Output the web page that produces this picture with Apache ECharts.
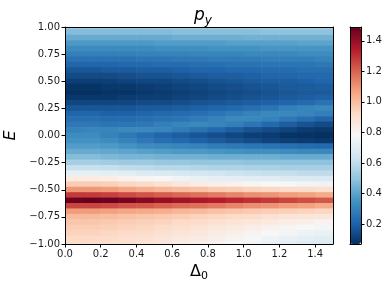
<!DOCTYPE html>
<html><head><meta charset="utf-8">
<script src="https://cdn.jsdelivr.net/npm/echarts/dist/echarts.min.js"></script>
<style>html,body{margin:0;padding:0;background:#fff}#c{width:390px;height:291px}</style>
</head><body><div id="c"></div><script>
// Δ0 cell centres (columns)
const deltaCenters = [0.05,0.15,0.25,0.35,0.45,0.55,0.65,0.75,0.85,0.95,1.05,1.15,1.25,1.35,1.45];
// E cell centres (rows, top to bottom)
const energyCenters = [1.00,0.95,0.90,0.85,0.80,0.75,0.70,0.65,0.60,0.55,0.50,0.45,0.40,0.35,0.30,0.25,0.20,0.15,0.10,0.05,0.00,
  -0.05,-0.10,-0.15,-0.20,-0.25,-0.30,-0.35,-0.40,-0.45,-0.50,-0.55,-0.60,-0.65,-0.70,-0.75,-0.80,-0.85,-0.90,-0.95,-1.00];
// p_y values, one row per E centre, one value per Δ0 centre
const pyRows = [
  [0.51,0.51,0.51,0.51,0.51,0.52,0.52,0.52,0.52,0.52,0.53,0.53,0.53,0.53,0.53],
  [0.47,0.47,0.47,0.47,0.47,0.47,0.48,0.48,0.48,0.48,0.48,0.49,0.49,0.49,0.49],
  [0.42,0.42,0.42,0.42,0.42,0.42,0.43,0.43,0.43,0.43,0.44,0.44,0.44,0.44,0.44],
  [0.37,0.37,0.37,0.37,0.37,0.38,0.38,0.38,0.38,0.39,0.39,0.39,0.39,0.40,0.40],
  [0.33,0.33,0.33,0.33,0.33,0.34,0.34,0.34,0.35,0.35,0.35,0.36,0.36,0.36,0.36],
  [0.29,0.29,0.29,0.29,0.30,0.30,0.30,0.31,0.31,0.31,0.32,0.32,0.32,0.33,0.33],
  [0.25,0.25,0.25,0.25,0.26,0.26,0.27,0.27,0.28,0.28,0.28,0.29,0.29,0.29,0.30],
  [0.21,0.21,0.21,0.22,0.22,0.23,0.23,0.24,0.24,0.25,0.25,0.26,0.26,0.26,0.27],
  [0.17,0.17,0.18,0.18,0.19,0.19,0.20,0.21,0.21,0.22,0.22,0.23,0.23,0.24,0.24],
  [0.14,0.14,0.14,0.15,0.16,0.16,0.17,0.18,0.19,0.19,0.20,0.21,0.21,0.22,0.22],
  [0.11,0.11,0.11,0.12,0.13,0.13,0.14,0.15,0.16,0.17,0.18,0.19,0.19,0.20,0.21],
  [0.08,0.08,0.09,0.09,0.10,0.11,0.12,0.13,0.14,0.15,0.16,0.17,0.18,0.18,0.19],
  [0.07,0.07,0.08,0.08,0.09,0.10,0.11,0.12,0.13,0.14,0.15,0.16,0.17,0.18,0.18],
  [0.09,0.09,0.09,0.10,0.11,0.11,0.12,0.13,0.14,0.15,0.16,0.17,0.18,0.19,0.20],
  [0.13,0.13,0.13,0.13,0.14,0.14,0.15,0.16,0.17,0.18,0.19,0.20,0.21,0.23,0.25],
  [0.17,0.17,0.17,0.17,0.18,0.18,0.19,0.20,0.21,0.22,0.24,0.26,0.29,0.31,0.32],
  [0.21,0.21,0.20,0.20,0.21,0.22,0.23,0.24,0.26,0.28,0.30,0.32,0.32,0.31,0.29],
  [0.24,0.24,0.23,0.23,0.24,0.25,0.26,0.28,0.30,0.32,0.32,0.30,0.27,0.24,0.21],
  [0.27,0.27,0.26,0.26,0.27,0.29,0.31,0.32,0.31,0.29,0.26,0.22,0.19,0.16,0.14],
  [0.30,0.31,0.31,0.32,0.32,0.31,0.28,0.25,0.22,0.19,0.16,0.14,0.12,0.10,0.09],
  [0.33,0.33,0.30,0.27,0.24,0.21,0.19,0.17,0.15,0.13,0.11,0.10,0.08,0.075,0.07],
  [0.35,0.35,0.33,0.30,0.27,0.24,0.22,0.20,0.18,0.16,0.14,0.12,0.11,0.10,0.09],
  [0.38,0.38,0.37,0.35,0.33,0.32,0.31,0.30,0.28,0.27,0.26,0.25,0.24,0.23,0.22],
  [0.42,0.42,0.41,0.40,0.39,0.38,0.37,0.37,0.36,0.35,0.34,0.34,0.33,0.32,0.32],
  [0.47,0.47,0.46,0.45,0.45,0.44,0.44,0.44,0.43,0.43,0.43,0.43,0.42,0.42,0.42],
  [0.54,0.54,0.53,0.52,0.52,0.51,0.51,0.50,0.50,0.50,0.49,0.49,0.49,0.49,0.49],
  [0.62,0.62,0.61,0.60,0.59,0.58,0.58,0.57,0.56,0.56,0.55,0.55,0.54,0.54,0.54],
  [0.72,0.72,0.71,0.70,0.68,0.67,0.66,0.65,0.64,0.63,0.62,0.61,0.61,0.60,0.60],
  [0.84,0.84,0.83,0.81,0.79,0.77,0.75,0.73,0.72,0.71,0.70,0.69,0.68,0.67,0.67],
  [0.96,0.96,0.95,0.93,0.91,0.89,0.86,0.84,0.82,0.81,0.79,0.78,0.77,0.76,0.75],
  [1.09,1.09,1.08,1.06,1.04,1.02,1.00,0.99,0.97,0.96,0.94,0.93,0.92,0.91,0.90],
  [1.28,1.28,1.27,1.25,1.23,1.21,1.19,1.17,1.15,1.13,1.11,1.10,1.08,1.07,1.05],
  [1.48,1.49,1.48,1.46,1.43,1.40,1.38,1.36,1.34,1.32,1.30,1.28,1.26,1.24,1.22],
  [1.26,1.26,1.25,1.23,1.22,1.20,1.18,1.17,1.15,1.13,1.11,1.10,1.08,1.07,1.05],
  [1.08,1.08,1.07,1.06,1.05,1.04,1.02,1.01,0.99,0.98,0.97,0.96,0.95,0.94,0.93],
  [1.01,1.01,1.00,0.99,0.98,0.97,0.96,0.94,0.93,0.92,0.91,0.89,0.88,0.87,0.86],
  [0.98,0.98,0.97,0.96,0.95,0.94,0.92,0.91,0.89,0.88,0.86,0.85,0.83,0.82,0.80],
  [0.96,0.96,0.95,0.94,0.93,0.91,0.90,0.88,0.86,0.85,0.83,0.81,0.79,0.78,0.76],
  [0.94,0.94,0.93,0.92,0.91,0.89,0.87,0.86,0.84,0.82,0.80,0.78,0.76,0.74,0.73],
  [0.92,0.92,0.91,0.90,0.89,0.87,0.85,0.84,0.82,0.80,0.77,0.75,0.73,0.71,0.70],
  [0.91,0.91,0.90,0.89,0.88,0.86,0.84,0.82,0.80,0.78,0.76,0.73,0.71,0.69,0.68]
];
const xTicks = [0.0,0.2,0.4,0.6,0.8,1.0,1.2,1.4];
const yTicks = [-1.00,-0.75,-0.50,-0.25,0.00,0.25,0.50,0.75,1.00];
const cbTicks = [0.2,0.4,0.6,0.8,1.0,1.2,1.4];

const rdbuR = ['#053061','#2166ac','#4393c3','#92c5de','#d1e5f0','#f7f7f7','#fddbc7','#f4a582','#d6604d','#b2182b','#67001f'];
const FONT = 'DejaVu Sans';
const TXT = '#1a1a1a';

const data = [];
pyRows.forEach((row, i) => row.forEach((v, j) => data.push([deltaCenters[j], energyCenters[i], v])));
const allVals = data.map(d => d[2]);
const vMin = Math.min(...allVals), vMax = Math.max(...allVals);
const halfDx = (deltaCenters[1] - deltaCenters[0]) / 2;
const halfDy = Math.abs(energyCenters[0] - energyCenters[1]) / 2;
const minus = s => s.replace('-', '\u2212');

const lineOnly = (extra) => Object.assign({
  type: 'value', axisLine: {show: true, onZero: false, lineStyle: {color: '#000', width: 1}},
  axisTick: {show: false}, axisLabel: {show: false}, splitLine: {show: false}, z: 10
}, extra);

const chart = echarts.init(document.getElementById('c'), null, {renderer: 'canvas'});
chart.setOption({
  animation: false,
  textStyle: {fontFamily: FONT},
  title: {
    text: '{p|p}{s|y}', left: 198, top: 0, textAlign: 'center',
    textStyle: {fontWeight: 'normal', rich: {
      p: {fontFamily: FONT, fontStyle: 'italic', fontWeight: 'normal', fontSize: 17, lineHeight: 22, color: '#000'},
      s: {fontFamily: FONT, fontStyle: 'italic', fontWeight: 'normal', fontSize: 12, lineHeight: 12, verticalAlign: 'bottom', color: '#000'}
    }}
  },
  grid: [
    {left: 65, top: 27, width: 268, height: 217, outerBoundsMode: 'none', containLabel: false},
    {left: 350, top: 27, width: 11, height: 217, outerBoundsMode: 'none', containLabel: false}
  ],
  xAxis: [
    lineOnly({gridIndex: 0, min: 0, max: 1.5, position: 'bottom',
      axisTick: {show: true, length: 3.5, customValues: xTicks, lineStyle: {color: '#000'}},
      axisLabel: {show: true, customValues: xTicks, formatter: v => v.toFixed(1), fontSize: 10, color: TXT, margin: 5, fontFamily: FONT},
      name: '{d|\u0394}{s|0}', nameLocation: 'middle', nameGap: 13,
      nameTextStyle: {rich: {
        d: {fontFamily: FONT, fontSize: 16, lineHeight: 20, color: '#000'},
        s: {fontFamily: FONT, fontSize: 11, lineHeight: 11, verticalAlign: 'bottom', color: '#000'}
      }}}),
    lineOnly({gridIndex: 0, min: 0, max: 1.5, position: 'top'}),
    lineOnly({gridIndex: 1, min: 0, max: 1, position: 'bottom'}),
    lineOnly({gridIndex: 1, min: 0, max: 1, position: 'top'})
  ],
  yAxis: [
    lineOnly({gridIndex: 0, min: -1, max: 1, position: 'left',
      axisTick: {show: true, length: 3.5, customValues: yTicks, lineStyle: {color: '#000'}},
      axisLabel: {show: true, customValues: yTicks, formatter: v => minus(v.toFixed(2)), fontSize: 10, color: TXT, margin: 5, fontFamily: FONT},
      name: 'E', nameLocation: 'middle', nameGap: 46,
      nameTextStyle: {fontFamily: FONT, fontStyle: 'italic', fontSize: 16, color: '#000'}}),
    lineOnly({gridIndex: 0, min: -1, max: 1, position: 'right'}),
    lineOnly({gridIndex: 1, min: vMin, max: vMax, position: 'right',
      axisTick: {show: true, length: 3.5, customValues: cbTicks, lineStyle: {color: '#000'}},
      axisLabel: {show: true, customValues: cbTicks, formatter: v => v.toFixed(1), fontSize: 10, color: TXT, margin: 5, fontFamily: FONT}}),
    lineOnly({gridIndex: 1, min: vMin, max: vMax, position: 'left'})
  ],
  visualMap: {
    type: 'continuous', min: vMin, max: vMax, dimension: 2, seriesIndex: 0,
    inRange: {color: rdbuR}, orient: 'vertical', left: 350, top: 27,
    itemWidth: 11, itemHeight: 217, padding: 0, calculable: false, hoverLink: false,
    textStyle: {color: 'rgba(0,0,0,0)'}
  },
  series: [{
    type: 'custom', xAxisIndex: 0, yAxisIndex: 0, clip: true,
    encode: {x: 0, y: 1},
    data: data,
    renderItem: (params, api) => {
      const x = api.value(0), y = api.value(1);
      const p0 = api.coord([x - halfDx, y + halfDy]);
      const p1 = api.coord([x + halfDx, y - halfDy]);
      return {type: 'rect',
        shape: {x: p0[0] - 0.3, y: p0[1] - 0.3, width: p1[0] - p0[0] + 0.6, height: p1[1] - p0[1] + 0.6},
        style: {fill: api.visual('color')}};
    }
  }]
});
</script></body></html>
